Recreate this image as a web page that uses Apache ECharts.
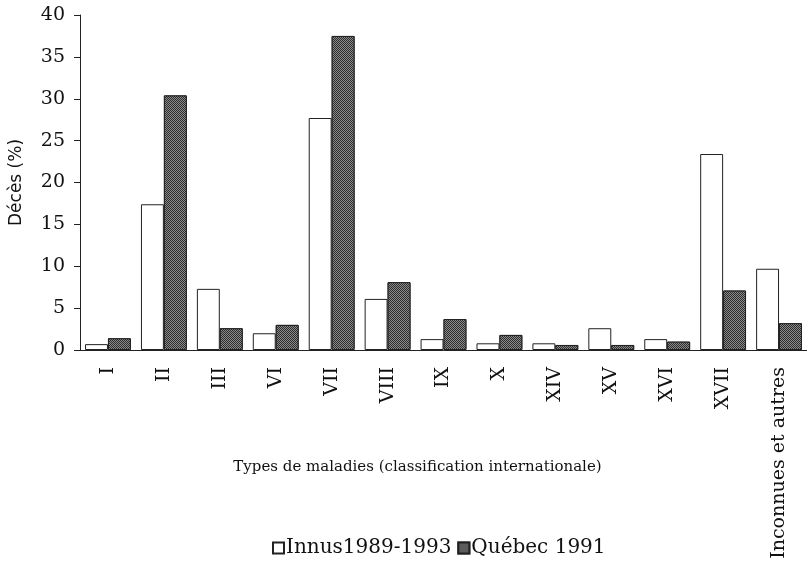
<!DOCTYPE html>
<html>
<head>
<meta charset="utf-8">
<script src="https://cdn.jsdelivr.net/npm/echarts@6/dist/echarts.min.js"></script>
<style>
  html, body { margin: 0; padding: 0; background: #fff; }
  #chart { width: 807px; height: 566px; }
</style>
</head>
<body>
<div id="chart"></div>
<script>
// categories (classification internationale)
var categories = ['I', 'II', 'III', 'VI', 'VII', 'VIII', 'IX', 'X', 'XIV', 'XV', 'XVI', 'XVII', 'Inconnues et autres'];
// Décès (%)
var innus = [0.7, 17.4, 7.3, 2.0, 27.7, 6.1, 1.3, 0.8, 0.8, 2.6, 1.3, 23.4, 9.7];
var quebec = [1.4, 30.4, 2.6, 3.0, 37.5, 8.1, 3.7, 1.8, 0.6, 0.6, 1.0, 7.1, 3.2];
var seriesNames = ['Innus1989-1993', 'Québec 1991'];
var yTicks = [0, 40, 5]; // min, max, interval

var serif = '"DejaVu Serif", "Liberation Serif", serif';
var sans = '"DejaVu Sans", "Liberation Sans", sans-serif';

// stippled grey fill like the printed figure
var stipple = {
    symbol: 'rect',
    symbolSize: 1,
    dashArrayX: [[1, 1], [0, 1, 1, 0]],
    dashArrayY: [1, 0],
    color: '#8a8a8a'
};

var chart = echarts.init(document.getElementById('chart'));
chart.setOption({
    animation: false,
    backgroundColor: '#fff',
    grid: { left: 78, top: 15, width: 732, height: 335 },
    legend: {
        data: seriesNames,
        top: 533,
        left: 267,
        icon: 'rect',
        itemWidth: 11,
        itemHeight: 11,
        itemGap: 6,
        textStyle: { fontFamily: serif, fontSize: 20, color: '#111', padding: [0, 0, 0, -3] }
    },
    xAxis: {
        type: 'category',
        data: categories,
        name: 'Types de maladies (classification internationale)',
        nameLocation: 'middle',
        nameGap: 110,
        nameMoveOverlap: false,
        nameTextStyle: { fontFamily: serif, fontSize: 15, color: '#111', padding: [0, 0, 0, -52] },
        axisLine: { lineStyle: { color: '#222', width: 1 } },
        axisTick: { length: 6, lineStyle: { color: '#222' } },
        axisLabel: {
            rotate: 90,
            margin: 17,
            interval: 0,
            fontFamily: serif,
            fontSize: 19,
            color: '#111'
        }
    },
    yAxis: {
        type: 'value',
        min: yTicks[0],
        max: yTicks[1],
        interval: yTicks[2],
        name: 'Décès (%)',
        nameLocation: 'middle',
        nameGap: 55,
        nameMoveOverlap: false,
        nameTextStyle: { fontFamily: sans, fontSize: 17, color: '#111' },
        splitLine: { show: false },
        axisLine: { show: true, lineStyle: { color: '#222' } },
        axisTick: { show: true, length: 6, lineStyle: { color: '#222' } },
        axisLabel: { fontFamily: serif, fontSize: 19, color: '#111', margin: 15 }
    },
    series: [{
        name: seriesNames[0],
        type: 'bar',
        data: innus,
        barGap: '0%',
        barCategoryGap: '18%',
        itemStyle: { color: '#fff', borderColor: '#222', borderWidth: 1 }
    }, {
        name: seriesNames[1],
        type: 'bar',
        data: quebec,
        itemStyle: { color: '#2e2e2e', borderColor: '#222', borderWidth: 1, decal: stipple }
    }]
});
</script>
</body>
</html>
